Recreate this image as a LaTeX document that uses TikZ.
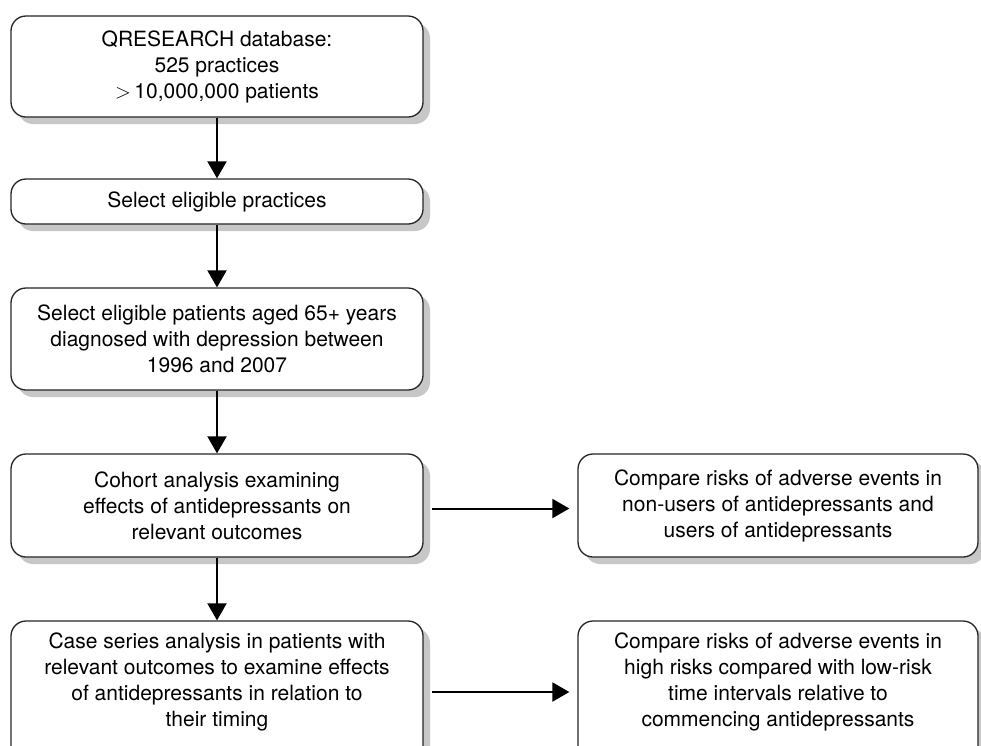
\documentclass[tikz,border=0pt]{standalone}
\usepackage{fontspec}
\setmainfont{TeX Gyre Heros}
\usetikzlibrary{arrows.meta,shadows}
\begin{document}
\begin{tikzpicture}[x=1pt,y=-1pt,
  box/.style={draw=black!85, line width=1.3pt, fill=white, rounded corners=15pt,
    minimum width=412pt, inner sep=0pt, align=center,
    font=\fontsize{21}{26}\selectfont,
    drop shadow={shadow xshift=7pt, shadow yshift=-7pt, fill=black!22, opacity=1}},
  rbox/.style={box, minimum width=400pt},
  txt/.style={align=center, inner sep=0pt, font=\fontsize{21}{26}\selectfont},
  arr/.style={line width=2pt, -{Triangle[length=17pt,width=19pt]}}]
\clip (0,0) rectangle (981,745);
\fill[white] (0,0) rectangle (981,745);

\node[box, minimum height=101pt] (b1) at (217,66.5) {QRESEARCH database:\\525 practices\\$>$\,10,000,000 patients};
\node[box, minimum height=45pt] (b2) at (217,201.5) {Select eligible practices};
\node[box, minimum height=102pt] (b3) at (217,339) {Select eligible patients aged 65+ years\\diagnosed with depression between\\1996 and 2007};
\node[box, minimum height=103pt] (b4) at (217,505.5) {Cohort analysis examining\\effects of antidepressants on\\relevant outcomes};
\node[rbox, minimum height=103pt] (r1) at (778,505.5) {Compare risks of adverse events in\\non-users of antidepressants and\\users of antidepressants};
\node[box, minimum height=142pt] (b5) at (217,692) {};
\node[txt] (t5) at (217,682) {Case series analysis in patients with\\relevant outcomes to examine effects\\of antidepressants in relation to\\their timing};
\node[rbox, minimum height=142pt] (r2) at (778,692) {};
\node[txt] (t6) at (778,682) {Compare risks of adverse events in\\high risks compared with low-risk\\time intervals relative to\\commencing antidepressants};

\draw[arr] (b1) -- (b2);
\draw[arr] (b2) -- (b3);
\draw[arr] (b3) -- (b4);
\draw[arr] (b4) -- (b5);
\draw[arr] ([xshift=8pt,yshift=-3pt]b4.east) -- ([xshift=-8pt,yshift=-3pt]r1.west);
\draw[arr] ([xshift=8pt]b5.east) -- ([xshift=-8pt]r2.west);
\end{tikzpicture}
\end{document}
